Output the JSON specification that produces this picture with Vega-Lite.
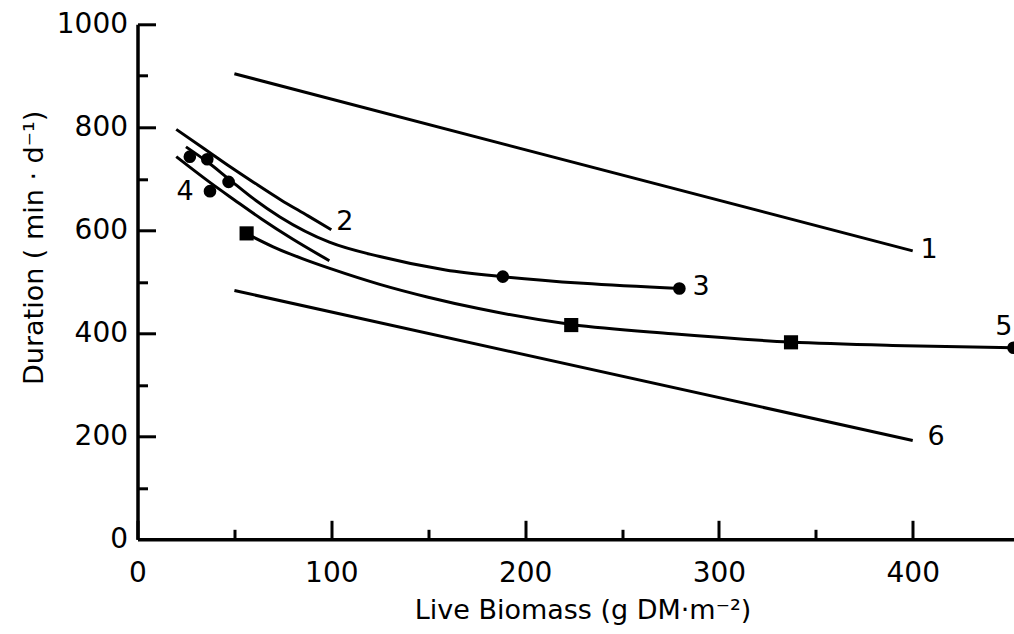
{
  "$schema": "https://vega.github.io/schema/vega-lite/v6.json",
  "width": 876,
  "height": 515,
  "autosize": {"type": "none"},
  "padding": {"left": 137.5, "top": 24.3, "right": 0, "bottom": 95},
  "background": "white",
  "config": {
    "view": {"stroke": null},
    "font": "DejaVu Sans",
    "axis": {
      "domainColor": "black",
      "domainWidth": 3.5,
      "tickColor": "black",
      "tickWidth": 3,
      "labelColor": "black",
      "titleColor": "black",
      "labelFont": "DejaVu Sans",
      "titleFont": "DejaVu Sans",
      "labelFontSize": 28,
      "titleFontSize": 27,
      "labelFontWeight": "normal",
      "titleFontWeight": "normal",
      "grid": false
    }
  },
  "datasets": {
    "curves": [
      {"series": "1", "x": 50, "y": 904},
      {"series": "1", "x": 400, "y": 560},
      {"series": "6", "x": 50, "y": 483},
      {"series": "6", "x": 400, "y": 192},
      {"series": "2", "x": 20, "y": 796},
      {"series": "2", "x": 35, "y": 757},
      {"series": "2", "x": 48, "y": 723},
      {"series": "2", "x": 60, "y": 693},
      {"series": "2", "x": 74, "y": 659},
      {"series": "2", "x": 88, "y": 628},
      {"series": "2", "x": 100, "y": 601},
      {"series": "3", "x": 25, "y": 762},
      {"series": "3", "x": 36, "y": 733},
      {"series": "3", "x": 47, "y": 700},
      {"series": "3", "x": 60, "y": 661},
      {"series": "3", "x": 73.5, "y": 626},
      {"series": "3", "x": 99, "y": 577},
      {"series": "3", "x": 125, "y": 549},
      {"series": "3", "x": 159, "y": 523},
      {"series": "3", "x": 188.5, "y": 510},
      {"series": "3", "x": 230, "y": 497},
      {"series": "3", "x": 280, "y": 487},
      {"series": "4", "x": 20, "y": 743},
      {"series": "4", "x": 37, "y": 694},
      {"series": "4", "x": 50, "y": 659},
      {"series": "4", "x": 64, "y": 622},
      {"series": "4", "x": 80, "y": 583},
      {"series": "4", "x": 99, "y": 541},
      {"series": "5", "x": 56, "y": 594},
      {"series": "5", "x": 70, "y": 568},
      {"series": "5", "x": 85, "y": 545},
      {"series": "5", "x": 100, "y": 525},
      {"series": "5", "x": 125, "y": 495},
      {"series": "5", "x": 150, "y": 470},
      {"series": "5", "x": 176, "y": 448},
      {"series": "5", "x": 224, "y": 417},
      {"series": "5", "x": 276, "y": 399},
      {"series": "5", "x": 337, "y": 383},
      {"series": "5", "x": 396, "y": 376},
      {"series": "5", "x": 452, "y": 372}
    ],
    "markers": [
      {"shape": "circle", "x": 27, "y": 743},
      {"shape": "circle", "x": 36, "y": 738},
      {"shape": "circle", "x": 47, "y": 694},
      {"shape": "circle", "x": 37.4, "y": 676},
      {"shape": "circle", "x": 188.5, "y": 510},
      {"shape": "circle", "x": 279.6, "y": 487},
      {"shape": "square", "x": 56.3, "y": 594},
      {"shape": "square", "x": 223.8, "y": 416},
      {"shape": "square", "x": 337.2, "y": 382.5},
      {"shape": "circle", "x": 452, "y": 372}
    ],
    "labels": [
      {"label": "1", "x": 408.5, "y": 562},
      {"label": "2", "x": 107, "y": 616},
      {"label": "3", "x": 290.8, "y": 490},
      {"label": "4", "x": 24.5, "y": 675},
      {"label": "5", "x": 447, "y": 413},
      {"label": "6", "x": 412, "y": 199}
    ]
  },
  "layer": [
    {
      "data": {"name": "curves"},
      "mark": {"type": "line", "interpolate": "monotone", "color": "black", "strokeWidth": 3, "clip": false},
      "encoding": {
        "x": {
          "field": "x", "type": "quantitative",
          "scale": {"domain": [0, 452], "nice": false, "zero": false},
          "axis": {
            "orient": "bottom",
            "values": [0, 100, 200, 300, 400],
            "ticks": false,
            "format": "d",
            "labelPadding": 20,
            "labelFlush": false,
            "title": "Live Biomass (g DM·m⁻²)",
            "titleX": 445,
            "titleY": 71,
            "titleBaseline": "middle",
            "titleAlign": "center"
          }
        },
        "y": {
          "field": "y", "type": "quantitative",
          "scale": {"domain": [0, 1000], "nice": false},
          "axis": {
            "orient": "left",
            "values": [0, 200, 400, 600, 800, 1000],
            "ticks": false,
            "format": "d",
            "labelPadding": 10,
            "labelFlush": false,
            "title": "Duration ( min · d⁻¹)",
            "titleX": -103,
            "titleY": 223,
            "titleAlign": "center",
            "titleBaseline": "middle",
            "titleAngle": 270
          }
        },
        "detail": {"field": "series", "type": "nominal"}
      }
    },
    {
      "data": {"name": "markers"},
      "mark": {"type": "point", "filled": true, "opacity": 1, "color": "black", "clip": false},
      "encoding": {
        "x": {
          "field": "x", "type": "quantitative",
          "axis": {
            "orient": "bottom",
            "values": [0, 100, 200, 300, 400],
            "offset": -19,
            "tickSize": 19,
            "labels": false,
            "domain": false,
            "title": null
          }
        },
        "y": {
          "field": "y", "type": "quantitative",
          "axis": {
            "orient": "left",
            "values": [200, 400, 600, 800, 1000],
            "offset": -18,
            "tickSize": 18,
            "labels": false,
            "domain": false,
            "title": null
          }
        },
        "shape": {
          "field": "shape", "type": "nominal",
          "scale": {"domain": ["circle", "square"], "range": ["circle", "square"]},
          "legend": null
        },
        "size": {
          "field": "shape", "type": "nominal",
          "scale": {"domain": ["circle", "square"], "range": [160, 200]},
          "legend": null
        }
      }
    },
    {
      "data": {"name": "labels"},
      "mark": {"type": "text", "font": "DejaVu Sans", "fontSize": 27, "color": "black", "align": "center", "baseline": "middle"},
      "encoding": {
        "x": {
          "field": "x", "type": "quantitative",
          "axis": {
            "orient": "bottom",
            "values": [50, 150, 250, 350],
            "offset": -10,
            "tickSize": 10,
            "labels": false,
            "domain": false,
            "title": null
          }
        },
        "y": {
          "field": "y", "type": "quantitative",
          "axis": {
            "orient": "left",
            "values": [100, 300, 500, 700, 900],
            "offset": -10,
            "tickSize": 10,
            "labels": false,
            "domain": false,
            "title": null
          }
        },
        "text": {"field": "label", "type": "nominal"}
      }
    }
  ],
  "resolve": {"axis": {"x": "independent", "y": "independent"}}
}
